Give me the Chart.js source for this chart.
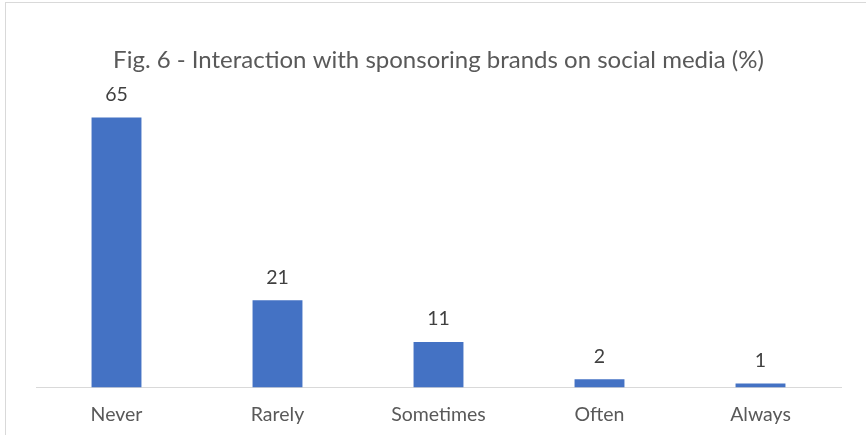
<!DOCTYPE html>
<html>
<head>
<meta charset="utf-8">
<script src="https://cdn.jsdelivr.net/npm/chart.js@4"></script>
<style>
  html, body { margin: 0; padding: 0; background: #fff; }
  #wrap { position: relative; width: 866px; height: 435px; }
  #frame { position: absolute; left: 5px; top: 2px; right: -2px; bottom: -2px;
           border-left: 1px solid #d9d9d9; border-top: 1px solid #d9d9d9; }
  canvas { position: absolute; left: 0; top: 0; }
</style>
</head>
<body>
<div id="wrap">
  <div id="frame"></div>
  <canvas id="chart" width="866" height="435"></canvas>
</div>
<script>
const categories = ['Never', 'Rarely', 'Sometimes', 'Often', 'Always'];
const percentages = [65, 21, 11, 2, 1];
const chartTitle = 'Fig. 6 - Interaction with sponsoring brands on social media (%)';

const FONT = 'Lato, "Liberation Sans", sans-serif';

// writes each value just above its bar
const valueLabels = {
  id: 'valueLabels',
  afterDatasetsDraw(chart) {
    const ctx = chart.ctx;
    const meta = chart.getDatasetMeta(0);
    ctx.save();
    ctx.font = '19.5px ' + FONT;
    ctx.fillStyle = '#404040';
    ctx.textAlign = 'center';
    ctx.textBaseline = 'middle';
    meta.data.forEach((bar, i) => {
      ctx.fillText(String(percentages[i]), bar.x, bar.y - 23);
    });
    ctx.restore();
  }
};

new Chart(document.getElementById('chart'), {
  type: 'bar',
  data: {
    labels: categories,
    datasets: [{
      data: percentages,
      backgroundColor: '#4472c4',
      categoryPercentage: 1,
      barPercentage: 0.31
    }]
  },
  options: {
    responsive: false,
    animation: false,
    layout: { padding: { left: 36, right: 25, top: 0, bottom: -6 } },
    plugins: {
      legend: { display: false },
      tooltip: { enabled: false },
      title: {
        display: true,
        text: chartTitle,
        color: '#595959',
        font: { family: FONT, size: 24, weight: 'normal' },
        padding: { top: 46, bottom: 22 }
      }
    },
    scales: {
      y: {
        display: false,
        min: 0,
        max: 70
      },
      x: {
        grid: { display: false, drawTicks: false },
        border: { display: true, color: '#d9d9d9', width: 1 },
        ticks: {
          color: '#595959',
          padding: 15,
          font: { family: FONT, size: 19.5 }
        }
      }
    }
  },
  plugins: [valueLabels]
});
</script>
</body>
</html>
